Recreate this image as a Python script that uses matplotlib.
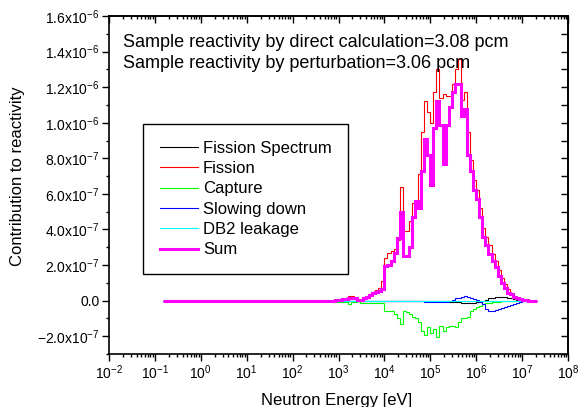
import numpy as np
import matplotlib
matplotlib.use('Agg')
import matplotlib.pyplot as plt
from matplotlib.ticker import MultipleLocator, FuncFormatter, LogLocator, LogFormatterMathtext

plt.rcParams.update({
    'font.family': 'Liberation Sans',
    'mathtext.fontset': 'custom',
    'mathtext.rm': 'Liberation Sans',
    'mathtext.it': 'Liberation Sans:italic',
    'mathtext.default': 'regular',
    'axes.unicode_minus': False,
})

# energy group structure: flat part from 0.15 eV, then 15 groups per decade
E_start = 0.15
log_edges = np.arange(42, 111) / 15.0          # 10^2.8 ... 10^7.33 eV
E_edges = np.concatenate([[E_start], 10 ** log_edges])

# contributions in units of 1e-7 (one value per group above 10^2.8 eV)
sum_vals = [0, 0, 0.02, 0.05, 0.08, 0.10, 0.15, 0.15, 0.12, 0.02,
            0.05, 0.12, 0.2, 0.3, 0.45, 0.5, 0.55, 0.65, 1.95, 2.0,
            2.25, 2.7, 3.5, 5.0, 2.5, 2.5, 3.0, 4.7, 5.6, 5.2,
            7.3, 9.1, 8.2, 6.5, 9.7, 11.2, 9.9, 7.7, 9.9, 10.9,
            11.7, 12.2, 12.2, 10.4, 10.8, 8.2, 7.3, 6.2, 5.7, 4.7,
            3.6, 3.1, 2.6, 2.2, 1.87, 1.4, 1.0, 0.7, 0.45, 0.35,
            0.2, 0.12, 0.07, 0.03, 0.01, 0, 0, 0]
fission_vals = [0, 0, 0.03, 0.08, 0.12, 0.16, 0.28, 0.28, 0.2, 0.03,
                0.1, 0.18, 0.28, 0.38, 0.5, 0.6, 0.7, 1.1, 2.4, 2.7,
                2.8, 2.9, 3.4, 6.4, 3.9, 3.9, 4.5, 5.5, 5.5, 7.1,
                9.5, 11.2, 10.6, 10.0, 11.7, 13.0, 11.4, 11.6, 11.5, 11.5,
                12.2, 13.0, 13.6, 11.3, 11.7, 9.5, 7.9, 6.8, 6.2, 5.2,
                4.1, 3.6, 3.1, 2.6, 2.2, 1.7, 1.3, 0.95, 0.65, 0.45,
                0.28, 0.15, 0.08, 0.03, 0.01, 0, 0, 0]
capture_vals = [-0.03, -0.05, -0.05, -0.05, -0.05, -0.06, -0.19, -0.1, -0.06, -0.02,
                -0.12, -0.12, -0.12, -0.12, -0.12, -0.12, -0.12, -0.12, -0.56, -0.56,
                -0.6, -0.75, -1.0, -1.34, -0.56, -0.65, -0.75, -0.9, -1.0, -1.2,
                -1.7, -1.96, -1.5, -1.8, -1.6, -2.05, -1.4, -1.7, -1.5, -1.4,
                -1.45, -1.5, -1.2, -1.0, -1.0, -0.93, -0.56, -0.47, -0.35, -0.28,
                -0.2, -0.15, -0.12, -0.1, -0.08, -0.06, -0.04, -0.03, -0.02, -0.02,
                -0.01, -0.01, 0, 0, 0, 0, 0, 0]
slowing_vals = [0, 0, 0, 0, 0, 0, 0, 0, 0, 0,
                0, 0, 0, 0, 0, 0, 0, 0, 0, 0,
                0, 0, 0, 0, 0, 0, 0, 0, 0, -0.02,
                -0.04, -0.06, -0.06, -0.06, -0.06, -0.06, -0.06, -0.08, -0.06, -0.04,
                0.05, 0.12, 0.15, 0.2, 0.24, 0.18, 0.12, 0.1, 0.02, -0.05,
                -0.2, -0.45, -0.56, -0.56, -0.52, -0.45, -0.4, -0.35, -0.28, -0.24,
                -0.18, -0.12, -0.07, -0.03, -0.01, 0, 0, 0]
spectrum_vals = [0, 0, 0, 0, 0, 0, 0, 0, 0, 0,
                 0, 0, 0, 0, 0, 0, 0, 0, 0, 0,
                 0, 0, 0, 0, 0, 0, 0, 0, 0, 0,
                 0, 0, 0, 0, 0, -0.01, -0.01, -0.01, -0.03, -0.05,
                 -0.07, -0.09, -0.1, -0.12, -0.13, -0.13, -0.13, -0.12, -0.1, -0.06,
                 0.0, 0.06, 0.12, 0.16, 0.19, 0.21, 0.21, 0.2, 0.17, 0.14,
                 0.1, 0.06, 0.03, 0.01, 0, 0, 0, 0]
leakage_vals = [0, 0, 0, 0, 0, -0.01, -0.01, -0.01, -0.01, -0.01,
                -0.01, -0.01, -0.01, -0.01, -0.01, -0.01, -0.01, -0.01, -0.01, -0.01,
                -0.01, -0.01, -0.01, -0.01, -0.01, -0.01, -0.01, -0.01, -0.01, -0.01,
                -0.01, -0.01, -0.01, -0.01, -0.01, -0.01, -0.01, -0.01, -0.01, -0.01,
                -0.01, -0.01, -0.01, -0.01, -0.01, -0.01, -0.01, -0.01, -0.01, -0.01,
                -0.01, -0.01, -0.01, -0.01, -0.01, -0.01, -0.01, -0.01, -0.01, -0.01,
                -0.01, -0.01, 0, 0, 0, 0, 0, 0]

series = [
    ('Fission Spectrum', spectrum_vals, '#000000', 0.8),
    ('Fission', fission_vals, '#ff0000', 0.8),
    ('Capture', capture_vals, '#00ff00', 0.8),
    ('Slowing down', slowing_vals, '#0000ff', 0.8),
    ('DB2 leakage', leakage_vals, '#00ffff', 0.8),
    ('Sum', sum_vals, '#ff00ff', 2.2),
]

fig = plt.figure(figsize=(5.78, 4.07), dpi=100)
ax = fig.add_axes([109/578, 1-354/407, 459/578, 338/407])

for label, vals, color, lw in series:
    v = np.concatenate([[0.0], np.array(vals)]) * 1e-7
    ax.stairs(v, E_edges, baseline=None, color=color, linewidth=lw, label=label)

ax.set_xscale('log')
ax.set_xlim(1e-2, 1e8)
ax.set_ylim(-3e-7, 1.6e-6)

ax.xaxis.set_major_locator(LogLocator(base=10, numticks=20))
ax.xaxis.set_minor_locator(LogLocator(base=10, subs=np.arange(2, 10), numticks=20))
ax.xaxis.set_major_formatter(LogFormatterMathtext())

def yfmt(v, pos):
    if abs(v) < 1e-12:
        return '0.0'
    e = int(np.floor(np.log10(abs(v)) + 1e-9))
    m = v / 10 ** e
    return r'$%.1fx10^{%d}$' % (m, e)

ax.yaxis.set_major_locator(MultipleLocator(2e-7))
ax.yaxis.set_minor_locator(MultipleLocator(1e-7))
ax.yaxis.set_major_formatter(FuncFormatter(yfmt))

for s in ax.spines.values():
    s.set_linewidth(1.2)
ax.tick_params(which='both', direction='out', width=1.0, labelsize=10, pad=2,
               top=False, right=False)
ax.tick_params(which='major', length=4.8)
ax.tick_params(which='minor', length=2.4)

# mirrored axes with inward ticks
top = ax.secondary_xaxis('top')
top.xaxis.set_major_locator(LogLocator(base=10, numticks=20))
top.xaxis.set_minor_locator(LogLocator(base=10, subs=np.arange(2, 10), numticks=20))
top.tick_params(which='both', direction='in', labeltop=False, width=1.0)
top.tick_params(which='major', length=4.8)
top.tick_params(which='minor', length=2.4)
top.spines['top'].set_linewidth(1.2)

right = ax.secondary_yaxis('right')
right.yaxis.set_major_locator(MultipleLocator(2e-7))
right.yaxis.set_minor_locator(MultipleLocator(1e-7))
right.tick_params(which='both', direction='in', labelright=False, width=1.0)
right.tick_params(which='major', length=4.8)
right.tick_params(which='minor', length=4.8)
right.spines['right'].set_linewidth(1.2)

fig.text(337/578, 1-405/407, 'Neutron Energy [eV]', ha='center', va='baseline', fontsize=12)
fig.text(17.5/578, 1-176/407, 'Contribution to reactivity', ha='center', va='center',
         rotation=90, fontsize=12)

ax.text(0.0305, 0.907, 'Sample reactivity by direct calculation=3.08 pcm',
        transform=ax.transAxes, fontsize=13, va='baseline')
ax.text(0.0305, 0.845, 'Sample reactivity by perturbation=3.06 pcm',
        transform=ax.transAxes, fontsize=13, va='baseline')

leg = ax.legend(loc='upper left', bbox_to_anchor=(0.074, 0.680), borderaxespad=0,
                fontsize=12, handlelength=2.3, handletextpad=0.3, labelspacing=0.32,
                borderpad=1.0, fancybox=False, framealpha=1)
leg.get_frame().set_edgecolor('black')
leg.get_frame().set_linewidth(1.0)

fig.savefig('out.png', dpi=100)
